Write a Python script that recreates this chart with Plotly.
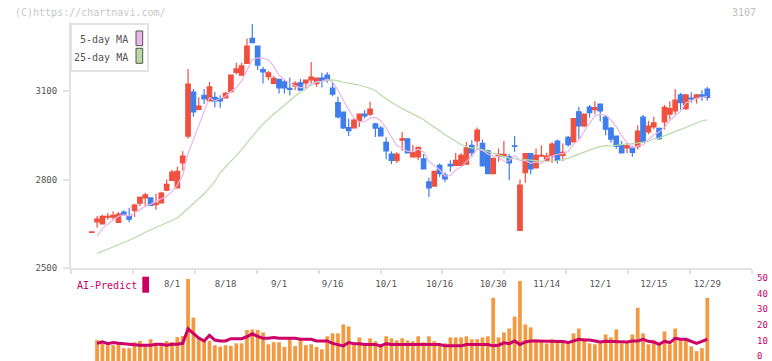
import plotly.graph_objects as go
import numpy as np

# ---------------- data ----------------
dates = ["7/10", "7/11", "7/14", "7/15", "7/16", "7/17", "7/18", "7/22", "7/23", "7/24",
         "7/25", "7/28", "7/29", "7/30", "7/31", "8/1", "8/4", "8/5", "8/6", "8/7",
         "8/8", "8/12", "8/13", "8/14", "8/15", "8/18", "8/19", "8/20", "8/21", "8/22",
         "8/25", "8/26", "8/27", "8/28", "8/29", "9/1", "9/2", "9/3", "9/4", "9/5",
         "9/8", "9/9", "9/10", "9/11", "9/12", "9/16", "9/17", "9/18", "9/19", "9/22",
         "9/24", "9/25", "9/26", "9/29", "9/30", "10/1", "10/2", "10/3", "10/6", "10/7",
         "10/8", "10/9", "10/10", "10/14", "10/15", "10/16", "10/17", "10/20", "10/21", "10/22",
         "10/23", "10/24", "10/27", "10/28", "10/29", "10/30", "10/31", "11/4", "11/5", "11/6",
         "11/7", "11/10", "11/11", "11/12", "11/13", "11/14", "11/17", "11/18", "11/19", "11/20",
         "11/21", "11/25", "11/26", "11/27", "11/28", "12/1", "12/2", "12/3", "12/4", "12/5",
         "12/8", "12/9", "12/10", "12/11", "12/12", "12/15", "12/16", "12/17", "12/18", "12/19",
         "12/22", "12/23", "12/24", "12/25", "12/26", "12/29"]

opens = [2621, 2657, 2650, 2673, 2673, 2655, 2690, 2677, 2696, 2720,
         2738, 2738, 2715, 2721, 2764, 2797, 2772, 2856, 2947, 3096,
         3037, 3085, 3066, 3078, 3074, 3076, 3097, 3162, 3153, 3193,
         3277, 3251, 3172, 3148, 3125, 3139, 3130, 3108, 3117, 3127,
         3127, 3137, 3124, 3143, 3153, 3109, 3060, 3028, 2976, 2975,
         2999, 3021, 3021, 2988, 2974, 2926, 2886, 2865, 2933, 2938,
         2877, 2877, 2870, 2792, 2778, 2848, 2815, 2851, 2848, 2848,
         2852, 2916, 2931, 2922, 2897, 2820, 2879, 2881, 2877, 2914,
         2628, 2823, 2888, 2839, 2879, 2865, 2880, 2930, 2882, 2943,
         2927, 3029, 2981, 3045, 3036, 3055, 3011, 2974, 2947, 2916,
         2907, 2906, 2911, 3011, 2961, 2978, 2973, 2995, 3021, 3032,
         3086, 3040, 3075, 3076, 3086, 3106]

highs = [2623, 2677, 2681, 2687, 2693, 2690, 2696, 2705, 2718, 2743,
         2755, 2738, 2752, 2759, 2800, 2833, 2843, 2896, 3174, 3106,
         3078, 3106, 3130, 3097, 3085, 3097, 3153, 3195, 3195, 3277,
         3326, 3251, 3181, 3168, 3150, 3139, 3139, 3145, 3133, 3140,
         3136, 3197, 3143, 3161, 3163, 3129, 3080, 3028, 3006, 3006,
         3023, 3035, 3063, 2991, 2982, 2943, 2896, 2892, 2961, 2938,
         2918, 2909, 2886, 2806, 2828, 2854, 2825, 2865, 2890, 2890,
         2927, 2933, 2976, 2935, 2901, 2872, 2905, 2930, 2886, 2947,
         2800, 2888, 2888, 2905, 2916, 2891, 2927, 2935, 2922, 2947,
         3006, 3046, 3021, 3052, 3065, 3055, 3018, 2978, 2947, 2930,
         2923, 2914, 2984, 3018, 2999, 3012, 2976, 3052, 3065, 3106,
         3093, 3089, 3095, 3089, 3102, 3113]

lows = [2621, 2637, 2650, 2664, 2662, 2655, 2682, 2656, 2673, 2711,
        2711, 2713, 2698, 2721, 2761, 2796, 2772, 2831, 2938, 3012,
        3037, 3055, 3066, 3044, 3043, 3074, 3097, 3155, 3153, 3193,
        3262, 3170, 3125, 3136, 3122, 3091, 3091, 3085, 3102, 3100,
        3105, 3125, 3114, 3111, 3127, 3082, 3006, 2971, 2947, 2975,
        2978, 3006, 3014, 2944, 2946, 2869, 2852, 2856, 2897, 2888,
        2874, 2865, 2836, 2741, 2778, 2809, 2792, 2826, 2848, 2848,
        2852, 2877, 2911, 2846, 2820, 2820, 2860, 2874, 2798, 2894,
        2626, 2789, 2818, 2839, 2879, 2865, 2856, 2854, 2863, 2911,
        2927, 2937, 2977, 3009, 3021, 2997, 2950, 2924, 2904, 2890,
        2890, 2877, 2902, 2927, 2953, 2970, 2934, 2969, 3003, 3021,
        3037, 3035, 3060, 3057, 3066, 3066]

closes = [2623, 2666, 2676, 2676, 2679, 2683, 2683, 2666, 2714, 2740,
          2748, 2713, 2720, 2754, 2784, 2825, 2828, 2879, 3123, 3029,
          3048, 3073, 3113, 3066, 3066, 3091, 3153, 3174, 3184, 3251,
          3263, 3187, 3164, 3161, 3142, 3110, 3110, 3105, 3125, 3102,
          3136, 3146, 3143, 3134, 3136, 3089, 3012, 2975, 2965, 3001,
          3021, 3015, 3038, 2974, 2948, 2897, 2865, 2886, 2938, 2890,
          2892, 2909, 2836, 2772, 2828, 2820, 2802, 2846, 2865, 2882,
          2907, 2891, 2967, 2846, 2820, 2872, 2885, 2885, 2856, 2912,
          2781, 2888, 2836, 2882, 2882, 2879, 2920, 2865, 2892, 2918,
          3006, 2981, 3021, 3026, 3043, 3032, 2970, 2937, 2913, 2890,
          2914, 2892, 2964, 2927, 2981, 2992, 2938, 3044, 3040, 3069,
          3060, 3086, 3073, 3086, 3082, 3078]

# moving-average values for the first days (before a full window exists)
ma5_head = [None, 2608, 2635, 2648]
ma25_head = [None, 2550, 2557, 2565, 2572, 2580, 2587, 2595, 2603, 2612,
             2622, 2630, 2638, 2645, 2652, 2660, 2670, 2686, 2702, 2718,
             2735, 2752, 2772, 2794]

volume = [None, 10.3, 7.8, 7.0, 7.0, 7.8, 5.1, 5.1, 8.9, 9.7,
          7.0, 10.8, 8.0, 7.0, 9.7, 8.9, 12.2, 12.9, 49.4, 24.7,
          11.6, 10.8, 9.7, 7.0, 6.1, 7.0, 6.5, 8.2, 8.2, 16.7,
          17.1, 16.7, 15.2, 7.6, 8.9, 8.9, 5.9, 10.8, 6.5, 10.3,
          7.0, 7.6, 5.9, 4.4, 12.7, 14.6, 14.6, 20.3, 19.0, 7.0,
          12.0, 7.0, 11.4, 9.5, 7.0, 12.7, 11.4, 10.1, 11.4, 10.1,
          9.5, 12.7, 8.9, 12.7, 9.5, 7.0, 8.2, 12.0, 12.0, 12.0,
          12.7, 10.8, 10.8, 12.0, 12.7, 37.3, 12.0, 15.2, 17.7, 25.3,
          48.1, 20.3, 18.4, 10.8, 9.5, 8.2, 10.8, 10.1, 10.1, 8.9,
          14.6, 17.7, 11.4, 8.2, 7.6, 8.9, 13.9, 12.0, 17.1, 8.2,
          8.9, 13.9, 31.0, 14.6, 7.6, 10.1, 7.0, 15.8, 7.6, 17.7,
          10.8, 10.8, 6.3, 3.2, 5.1, 37.3]

ai_predict = [None, 8.2, 9.1, 8.0, 8.7, 8.2, 7.8, 7.6, 7.0, 7.0,
              7.0, 7.0, 7.6, 7.6, 7.0, 7.6, 7.6, 8.2, 17.5, 14.6,
              11.6, 9.7, 13.3, 10.3, 9.7, 9.7, 11.2, 11.2, 11.2, 12.4,
              14.3, 12.6, 11.4, 11.4, 12.0, 11.4, 11.4, 11.4, 11.4, 10.8,
              10.8, 10.8, 9.7, 9.7, 9.7, 8.2, 7.2, 6.6, 8.7, 8.0,
              8.0, 7.4, 7.4, 7.4, 6.6, 8.0, 7.4, 7.4, 7.4, 7.4,
              7.4, 7.4, 7.4, 7.4, 7.4, 7.4, 6.6, 6.6, 6.6, 6.6,
              7.4, 7.4, 7.4, 7.4, 7.4, 6.6, 7.0, 8.5, 8.0, 9.7,
              7.4, 9.1, 9.7, 9.7, 9.7, 9.3, 9.3, 9.3, 9.3, 8.7,
              9.7, 10.8, 10.3, 10.3, 9.7, 9.1, 9.5, 9.5, 9.5, 9.1,
              9.1, 9.7, 9.7, 10.8, 9.5, 9.1, 7.6, 9.5, 8.7, 11.4,
              10.8, 10.8, 9.7, 8.2, 9.5, 10.8]

tick_labels = ["8/1", "8/18", "9/1", "9/16", "10/1", "10/16", "10/30", "11/14", "12/1", "12/15", "12/29"]
price_ticks = [2500, 2800, 3100]
volume_ticks = [0, 10, 20, 30, 40, 50]
ma_names = ["5-day MA", "25-day MA"]
indicator_name = "AI-Predict"
site_text = "(C)https://chartnavi.com/"
code_text = "3107"

# ---------------- styling ----------------
RED = "#f0503f"
BLUE = "#3f7ded"
PINK = "#e9b6ea"
GREEN = "#b6dca6"
ORANGE = "#f39a41"
CRIMSON = "#cc0066"
AXIS = "#e3e3e3"
TXT = "#555555"
FONT = "DejaVu Sans Mono"

W, H = 772, 361
ML, MR, MT, MB = 71, 20, 22, 0
PW, PH = W - ML - MR, H - MT - MB

def px_x(X):
    return (X - ML) / PW

def px_y(Y):
    return (H - MB - Y) / PH

n = len(closes)
x = list(range(n))

ma5 = list(ma5_head) + [sum(closes[i - 4:i + 1]) / 5 for i in range(len(ma5_head), n)]
ma25 = list(ma25_head) + [sum(closes[i - 24:i + 1]) / 25 for i in range(len(ma25_head), n)]

x_range = [-3.87, 123.35]
vol_floor = -3.1

fig = go.Figure()

fig.add_trace(go.Scatter(x=x, y=ma25, mode="lines", line=dict(color=GREEN, width=1.2),
                         name=ma_names[1], xaxis="x", yaxis="y", hoverinfo="skip"))
fig.add_trace(go.Scatter(x=x, y=ma5, mode="lines", line=dict(color=PINK, width=1.2),
                         name=ma_names[0], xaxis="x", yaxis="y", hoverinfo="skip"))
fig.add_trace(go.Candlestick(
    x=x, open=opens, high=highs, low=lows, close=closes,
    increasing=dict(line=dict(color=RED, width=1.2), fillcolor=RED),
    decreasing=dict(line=dict(color=BLUE, width=1.2), fillcolor=BLUE),
    whiskerwidth=0, xaxis="x", yaxis="y", name="price"))

fig.add_trace(go.Bar(x=x, y=[None if v is None else v - vol_floor for v in volume], base=vol_floor,
                     marker=dict(color=ORANGE, line=dict(width=0)),
                     xaxis="x2", yaxis="y2", name="volume"))
fig.add_trace(go.Scatter(x=x, y=ai_predict, mode="lines",
                         line=dict(color=CRIMSON, width=3), name=indicator_name,
                         xaxis="x2", yaxis="y2"))

tick_pos = [dates.index(t) for t in tick_labels]
frame_ticks = list(np.linspace(x_range[0], x_range[1], 12))

main_bottom = px_y(268.3)
y_top_val = 3100 + (90.7 - MT) * (300 / 88.6)

fig.update_layout(
    width=W, height=H,
    margin=dict(l=ML, r=MR, t=MT, b=MB, pad=0, autoexpand=False),
    paper_bgcolor="white", plot_bgcolor="white",
    showlegend=False,
    bargap=0.3,
    boxgap=0.16, boxgroupgap=0,
    font=dict(family=FONT, size=9, color=TXT),
    xaxis=dict(domain=[0, 1], anchor="y", range=x_range, rangeslider=dict(visible=False),
               automargin=False,
               showline=True, linecolor=AXIS, linewidth=2, showgrid=False, zeroline=False,
               tickmode="array", tickvals=tick_pos, ticktext=tick_labels,
               ticks="outside", ticklen=6, tickcolor="rgba(0,0,0,0)",
               tickfont=dict(family=FONT, size=9, color=TXT),
               minor=dict(tickmode="array", tickvals=frame_ticks, ticks="outside",
                          ticklen=4, tickwidth=2, tickcolor=AXIS, showgrid=False)),
    yaxis=dict(domain=[main_bottom, 1], anchor="x", range=[2500, y_top_val],
               automargin=False,
               showline=True, linecolor=AXIS, linewidth=2, showgrid=False, zeroline=False,
               tickmode="array", tickvals=price_ticks, ticks="outside", ticklen=6,
               tickwidth=2, tickcolor=AXIS, ticklabelstandoff=4,
               tickfont=dict(family=FONT, size=9, color=TXT)),
    xaxis2=dict(domain=[0, 1], anchor="y2", matches="x", visible=False, automargin=False),
    yaxis2=dict(domain=[0, px_y(278)], anchor="x2", side="right", range=[vol_floor, 50],
                automargin=False, ticklabeloverflow="allow",
                showline=False, showgrid=False, zeroline=False,
                tickmode="array", tickvals=volume_ticks, ticks="", ticklabelstandoff=4,
                tickfont=dict(family=FONT, size=9, color=CRIMSON)),
)

shapes = []
annotations = []

# legend box for moving averages
shapes.append(dict(type="rect", xref="paper", yref="paper", x0=px_x(71), x1=px_x(148),
                   y0=px_y(71), y1=px_y(24), line=dict(color=AXIS, width=2),
                   fillcolor="white", layer="above"))
for name, color, yc, y0, y1 in [(ma_names[0], PINK, 40, 31, 45.7), (ma_names[1], GREEN, 57.3, 48.3, 63.3)]:
    annotations.append(dict(text=name, xref="paper", yref="paper", x=px_x(130), y=px_y(yc),
                            xanchor="right", yanchor="middle", showarrow=False,
                            font=dict(family=FONT, size=10, color=TXT)))
    shapes.append(dict(type="rect", xref="paper", yref="paper", x0=px_x(136), x1=px_x(142.7),
                       y0=px_y(y1), y1=px_y(y0), line=dict(color="#555555", width=1),
                       fillcolor=color, layer="above"))

# AI-Predict label and swatch
annotations.append(dict(text=indicator_name, xref="paper", yref="paper", x=px_x(75), y=px_y(285.7),
                        xanchor="left", yanchor="middle", showarrow=False,
                        font=dict(family=FONT, size=10, color=CRIMSON)))
shapes.append(dict(type="rect", xref="paper", yref="paper", x0=px_x(142.3), x1=px_x(149),
                   y0=px_y(292.7), y1=px_y(276.7), line=dict(width=0), fillcolor=CRIMSON))

# header texts
annotations.append(dict(text=site_text, xref="paper", yref="paper", x=px_x(13), y=px_y(12),
                        xanchor="left", yanchor="middle", showarrow=False,
                        font=dict(family=FONT, size=10, color="#c8c8c8")))
annotations.append(dict(text=code_text, xref="paper", yref="paper", x=px_x(758), y=px_y(12),
                        xanchor="right", yanchor="middle", showarrow=False,
                        font=dict(family=FONT, size=10, color="#c0c0c0")))

fig.update_layout(shapes=shapes, annotations=annotations)

fig.write_html("out.html",
               config={"displayModeBar": False},
               post_script="document.body.style.margin='0px';document.body.style.padding='0px';")
